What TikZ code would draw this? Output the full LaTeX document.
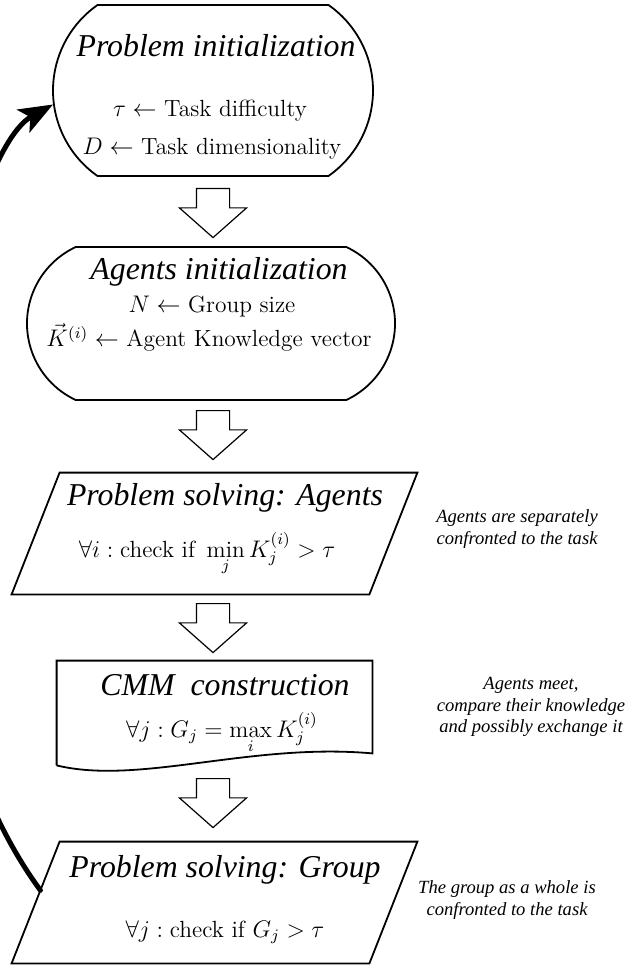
\documentclass[tikz,border=0pt]{standalone}
\usepackage{fontspec}
\newfontfamily\timesfont{Liberation Serif}[ItalicFont={Liberation Serif Italic}]
\usetikzlibrary{shapes.misc,shapes.arrows,arrows.meta,calc}

\tikzset{
  outline/.style={line width=0.9pt},
  term/.style={outline,draw,rounded rectangle,inner sep=0pt},
  plain/.style={draw=none,rectangle,inner sep=0pt},
  headline/.style={anchor=base,inner sep=0pt,font=\timesfont\itshape\fontsize{15.9}{19}\selectfont},
  rule/.style={anchor=base,inner sep=0pt,font=\fontsize{11.7}{14}\selectfont},
  blockarrow/.style={draw,line width=0.6pt,single arrow,rotate=-90,anchor=tail,
    inner xsep=0pt,inner ysep=8pt,minimum height=24.5pt,minimum width=33pt,
    single arrow head extend=8.5pt,single arrow tip angle=97},
  note/.style={align=center,font=\timesfont\itshape\fontsize{9.3}{10.8}\selectfont},
  loopback/.style={line width=2.5pt,line cap=round,
    -{Stealth[length=17pt,width=13pt,inset=4pt]}}
}

\begin{document}
\begin{tikzpicture}[x=0.5pt,y=-0.5pt]
  \useasboundingbox (0,0) rectangle (630,967);

  % stages
  \node[term,rounded rectangle arc length=110,minimum width=160pt,minimum height=85.5pt]
    (init) at (213,90.5) {};
  \node[headline] (inittitle) at (216,57) {Problem initialization};
  \node[rule] (tau) at (210,117) {$\tau\leftarrow$ Task difficulty};
  \node[rule] (dim) at (212,155) {$D\leftarrow$ Task dimensionality};

  \node[term,rounded rectangle arc length=130,minimum width=184pt,minimum height=76.5pt]
    (agents) at (211,323.5) {};
  \node[headline] (agentstitle) at (219,280) {Agents initialization};
  \node[rule] (size) at (212,313) {$N\leftarrow$ Group size};
  \node[rule] (knowledge) at (209,347) {$\vec{K}^{(i)}\leftarrow$ Agent Knowledge vector};

  \node[plain,minimum width=202.5pt,minimum height=60.5pt] (solveagents) at (214.5,533.5) {};
  \node[headline] (solveagentstitle) at (225,505) {Problem solving: Agents};
  \node[rule] (checkagents) at (207,557)
    {$\forall i : \mbox{check if } \min\limits_j K_j^{(i)} > \tau$};

  \node[plain,minimum width=157.5pt,minimum height=52pt] (cmm) at (214.5,713) {};
  \node[headline] (cmmtitle) at (225,695) {CMM\ \ construction};
  \node[rule] (maxrule) at (222,737) {$\forall j : G_j = \max\limits_i K_j^{(i)}$};
  \draw[outline] (cmm.south west) -- (cmm.north west) -- (cmm.north east)
    -- ([yshift=6pt]cmm.south east)
    .. controls ([xshift=-61pt,yshift=11.5pt]cmm.south east)
    and ([xshift=41.5pt,yshift=-10pt]cmm.south west) .. (cmm.south west);

  \node[plain,minimum width=202.5pt,minimum height=60.5pt] (solvegroup) at (214.5,902.5) {};
  \node[headline] (solvegrouptitle) at (225,877) {Problem solving: Group};
  \node[rule] (checkgroup) at (225,937) {$\forall j : \mbox{check if } G_j > \tau$};

  \foreach \s in {solveagents,solvegroup}
    \draw[outline] ([xshift=24pt]\s.north west) -- (\s.north east)
      -- ([xshift=-24pt]\s.south east) -- (\s.south west) -- cycle;

  % block arrows between stages
  \foreach \n/\y in {a1/188,a2/410,a3/603,a4/778}
    \node[blockarrow] (\n) at (213,\y) {};

  % side notes
  \node[note] (noteagents) at (517,529) {Agents are separately\\confronted to the task};
  \node[note] (notecmm) at (531,707) {Agents meet,\\compare their knowledge\\and possibly exchange it};
  \node[note] (notegroup) at (507,900) {The group as a whole is\\confronted to the task};

  % feedback loop
  \draw[loopback] ($(solvegroup.south west)!0.6!([xshift=24pt]solvegroup.north west)$)
    .. controls (-147,634) and (-41.5,157) .. (init.185);
\end{tikzpicture}
\end{document}
